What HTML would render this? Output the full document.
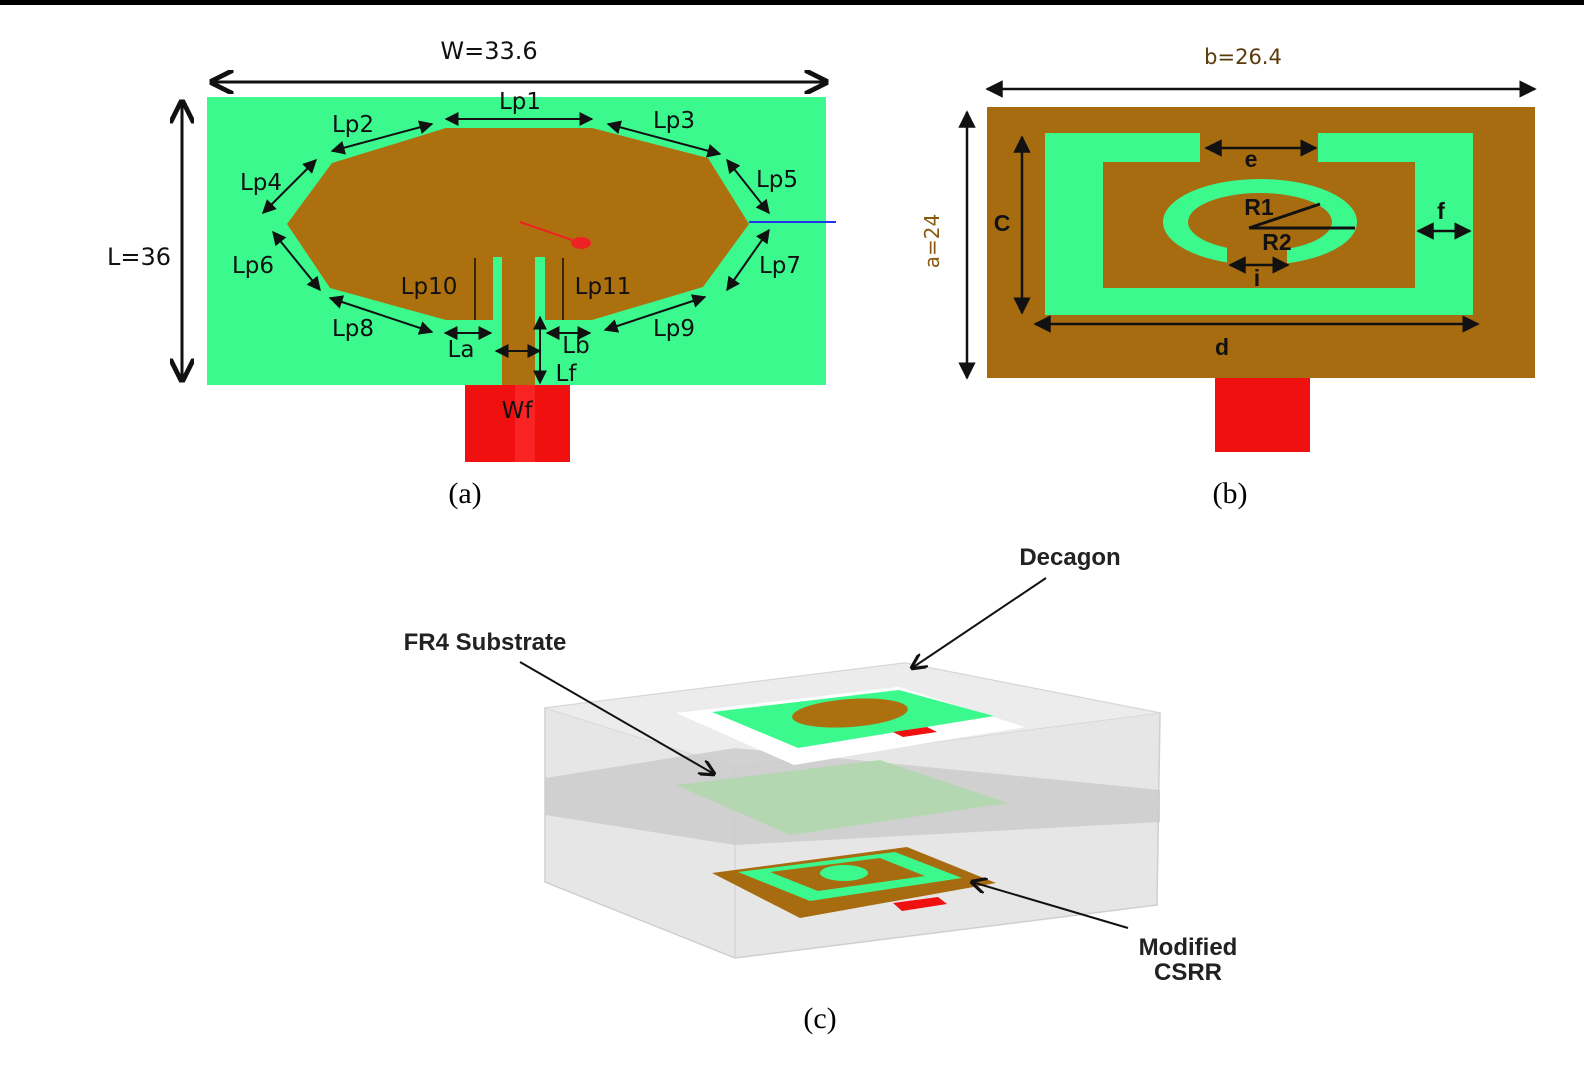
<!DOCTYPE html>
<html><head><meta charset="utf-8"><style>
html,body{margin:0;padding:0;background:#fff}
svg{display:block}
.s{font-family:"DejaVu Sans","Liberation Sans",sans-serif}
.b{font-family:"Liberation Sans",sans-serif;font-weight:bold}
.r{font-family:"Liberation Serif",serif}
</style></head><body>
<svg width="1584" height="1077" viewBox="0 0 1584 1077" xmlns="http://www.w3.org/2000/svg">
<defs>
<marker id="ah" viewBox="0 0 10 10" refX="9" refY="5" markerWidth="7" markerHeight="7" orient="auto-start-reverse"><path d="M0,0L10,5L0,10z" fill="#111"/></marker>
<marker id="ao" viewBox="0 0 10 10" refX="9" refY="5" markerWidth="8" markerHeight="8" orient="auto-start-reverse"><path d="M0,0L10,5L0,10" fill="none" stroke="#111" stroke-width="2"/></marker>
</defs>
<rect x="0" y="0" width="1584" height="5" fill="#000"/>

<!-- Panel a -->
<rect x="207" y="97" width="619" height="288" fill="#3cf98e"/>
<polygon points="446,128 592,128 708,158 749,224 703,287 592,320 545,320 545,257 535,257 535,385 502,385 502,257 493,257 493,320 446,320 330,288 287,224 332,163" fill="#ad700f"/>
<rect x="465" y="385" width="105" height="77" fill="#f01010"/>
<rect x="515" y="385" width="20" height="77" fill="#ff3030" opacity="0.6"/>
<line x1="749" y1="222" x2="836" y2="222" stroke="#2233ee" stroke-width="2"/>
<line x1="520" y1="222" x2="572" y2="240" stroke="#e22" stroke-width="2"/>
<ellipse cx="581" cy="243" rx="10" ry="6" fill="#e22"/>
<line x1="212" y1="82" x2="826" y2="82" stroke="#111" stroke-width="3" marker-start="url(#ao)" marker-end="url(#ao)"/>
<line x1="182" y1="102" x2="182" y2="380" stroke="#111" stroke-width="3" marker-start="url(#ao)" marker-end="url(#ao)"/>
<text x="489" y="59" class="s" font-size="24" text-anchor="middle" fill="#111">W=33.6</text>
<text x="139" y="265" class="s" font-size="24" text-anchor="middle" fill="#111">L=36</text>
<g stroke="#111" stroke-width="2" marker-start="url(#ah)" marker-end="url(#ah)">
<line x1="446" y1="119" x2="592" y2="119"/>
<line x1="332" y1="151" x2="432" y2="124"/>
<line x1="608" y1="124" x2="720" y2="154"/>
<line x1="263" y1="213" x2="316" y2="160"/>
<line x1="727" y1="160" x2="769" y2="213"/>
<line x1="273" y1="232" x2="320" y2="290"/>
<line x1="769" y1="230" x2="727" y2="290"/>
<line x1="330" y1="298" x2="432" y2="332"/>
<line x1="605" y1="330" x2="705" y2="297"/>
<line x1="445" y1="333" x2="491" y2="333"/>
<line x1="547" y1="333" x2="590" y2="333"/>
<line x1="496" y1="351" x2="540" y2="351"/>
<line x1="540" y1="317" x2="540" y2="383"/>
</g>
<line x1="475" y1="258" x2="475" y2="320" stroke="#111" stroke-width="1.5"/>
<line x1="563" y1="258" x2="563" y2="320" stroke="#111" stroke-width="1.5"/>
<g class="s" font-size="23" fill="#111" text-anchor="middle">
<text x="520" y="109">Lp1</text><text x="353" y="132">Lp2</text><text x="674" y="128">Lp3</text>
<text x="261" y="190">Lp4</text><text x="777" y="187">Lp5</text><text x="253" y="273">Lp6</text>
<text x="780" y="273">Lp7</text><text x="353" y="336">Lp8</text><text x="674" y="336">Lp9</text>
<text x="429" y="294">Lp10</text><text x="603" y="294">Lp11</text>
<text x="461" y="357">La</text><text x="576" y="353">Lb</text><text x="566" y="381">Lf</text>
<text x="517" y="418">Wf</text></g>

<!-- Panel b -->
<rect x="987" y="107" width="548" height="271" fill="#a86c10"/>
<rect x="1045" y="133" width="428" height="182" fill="#3cf98e"/>
<rect x="1103" y="162" width="312" height="126" fill="#a86c10"/>
<rect x="1200" y="133" width="118" height="30" fill="#a86c10"/>
<ellipse cx="1260" cy="222" rx="97" ry="43" fill="#3cf98e"/>
<ellipse cx="1260" cy="222" rx="72" ry="29" fill="#a86c10"/>
<rect x="1227" y="245" width="60" height="25" fill="#a86c10"/>
<rect x="1215" y="378" width="95" height="74" fill="#f01010"/>
<line x1="1249" y1="228" x2="1320" y2="204" stroke="#111" stroke-width="3"/>
<line x1="1249" y1="228" x2="1355" y2="228" stroke="#111" stroke-width="3"/>
<g stroke="#111" stroke-width="2.5" marker-start="url(#ah)" marker-end="url(#ah)">
<line x1="987" y1="89" x2="1535" y2="89"/>
<line x1="967" y1="112" x2="967" y2="378"/>
<line x1="1022" y1="137" x2="1022" y2="313"/>
<line x1="1206" y1="148" x2="1316" y2="148"/>
<line x1="1418" y1="231" x2="1470" y2="231"/>
<line x1="1035" y1="324" x2="1478" y2="324"/>
<line x1="1230" y1="265" x2="1288" y2="265"/>
</g>
<text x="1243" y="64" class="s" font-size="21" text-anchor="middle" fill="#5a3a0a">b=26.4</text>
<text x="0" y="0" class="s" font-size="20" fill="#8a5a10" text-anchor="middle" transform="translate(939,241) rotate(-90)">a=24</text>
<g class="b" font-size="23" fill="#111" text-anchor="middle">
<text x="1002" y="231">C</text><text x="1251" y="167">e</text><text x="1441" y="219">f</text>
<text x="1222" y="355">d</text><text x="1259" y="215">R1</text><text x="1277" y="250">R2</text><text x="1257" y="286">i</text></g>

<text x="465" y="503" class="r" font-size="30" text-anchor="middle">(a)</text>
<text x="1230" y="503" class="r" font-size="30" text-anchor="middle">(b)</text>

<!-- Panel c -->
<polygon points="545,708 905,663 1160,713 1157,905 735,958 545,882" fill="#e6e6e6" stroke="#cfcfcf" stroke-width="1.5"/>
<polygon points="545,708 905,663 1160,713 735,768" fill="#ececec" stroke="#d8d8d8"/>
<line x1="735" y1="768" x2="735" y2="958" stroke="#d0d0d0"/>
<polygon points="545,778 735,748 1160,790 1160,822 735,845 545,815" fill="#cbcbcb" opacity="0.8"/>
<polygon points="676,785 880,760 1008,803 790,835" fill="#b0d7ad" opacity="0.9"/>
<polygon points="676,713 899,687 1025,727 794,765" fill="#ffffff"/>
<polygon points="712,712 899,690 994,716 798,748" fill="#3cf98e"/>
<ellipse cx="850" cy="713" rx="58" ry="14" fill="#ad700f" transform="rotate(-4 850 713)"/>
<polygon points="893,732 927,727 937,732 903,737" fill="#f01010"/>
<polygon points="712,873 907,847 996,883 800,918" fill="#a86c10"/>
<polygon points="738,872 895,852 962,878 810,901" fill="#3cf98e"/>
<polygon points="770,872 880,858 925,876 818,891" fill="#a86c10"/>
<ellipse cx="844" cy="873" rx="24" ry="8" fill="#3cf98e"/>
<polygon points="893,903 938,897 947,904 902,911" fill="#f01010"/>
<g class="b" font-size="24" fill="#222">
<text x="1070" y="565" text-anchor="middle">Decagon</text>
<text x="485" y="650" text-anchor="middle">FR4 Substrate</text>
<text x="1188" y="955" text-anchor="middle">Modified</text>
<text x="1188" y="980" text-anchor="middle">CSRR</text></g>
<g stroke="#111" stroke-width="2" marker-end="url(#ao)">
<line x1="1046" y1="578" x2="912" y2="668"/>
<line x1="520" y1="662" x2="714" y2="774"/>
<line x1="1128" y1="928" x2="972" y2="882"/>
</g>
<text x="820" y="1028" class="r" font-size="30" text-anchor="middle">(c)</text>
</svg>
</body></html>
